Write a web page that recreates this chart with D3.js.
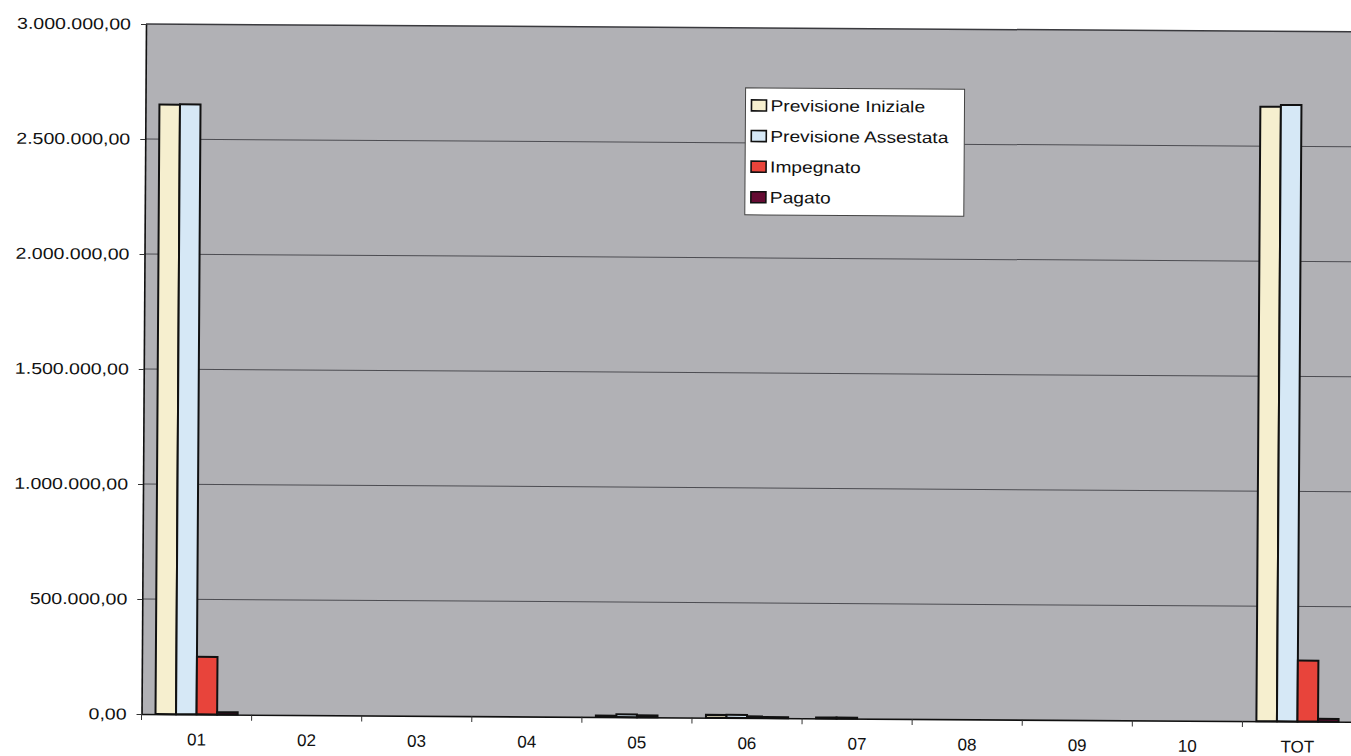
<!DOCTYPE html>
<html>
<head>
<meta charset="utf-8">
<script src="https://cdn.jsdelivr.net/npm/d3@7"></script>
<style>
  body { margin: 0; background: #ffffff; }
  svg { display: block; font-family: "Liberation Sans", Arial, sans-serif; }
</style>
</head>
<body>
<svg id="chart" width="1351" height="756"></svg>
<script>
// Spesa per titolo: previsioni, impegni e pagamenti
const categories = ["01", "02", "03", "04", "05", "06", "07", "08", "09", "10", "TOT"];
const seriesNames = ["Previsione Iniziale", "Previsione Assestata", "Impegnato", "Pagato"];
const previsioneIniziale  = [2650000, 0, 0, 0, 6000, 12000, 4000, 0, 0, 0, 2672000];
const previsioneAssestata = [2652000, 0, 0, 0, 12000, 13000, 4000, 0, 0, 0, 2680000];
const impegnato           = [250000, 0, 0, 0, 8000, 7000, 0, 0, 0, 0, 265000];
const pagato              = [10000, 0, 0, 0, 0, 4000, 0, 0, 0, 0, 12000];
const yTickValues = [0, 500000, 1000000, 1500000, 2000000, 2500000, 3000000];
const seriesColors = ["#f6efcf", "#d6e8f6", "#e8443b", "#650b33"];

const seriesValues = [previsioneIniziale, previsioneAssestata, impegnato, pagato];

const margin = { left: 146, top: 24 };
const width = 1211, height = 690;
const tilt = 0.37; // degrees

const it = d3.formatLocale({ decimal: ",", thousands: ".", grouping: [3], currency: ["", " €"] });
const fmt = it.format(",.2f");

const svg = d3.select("#chart");
const g = svg.append("g")
  .attr("transform", `translate(${margin.left},${margin.top}) rotate(${tilt})`);

const x0 = d3.scaleBand().domain(categories).range([0, width]).paddingInner(0).paddingOuter(0);
const x1 = d3.scaleBand().domain(seriesNames).range([0, x0.bandwidth()]).paddingInner(0).paddingOuter(0.68);
const y = d3.scaleLinear().domain([0, 3000000]).range([height, 0]);

// plot background
g.append("rect")
  .attr("x", 0).attr("y", 0).attr("width", width + 20).attr("height", height)
  .attr("fill", "#b1b1b5");

// horizontal gridlines
g.append("g")
  .selectAll("line")
  .data(yTickValues.filter(v => v > 0 && v < 3000000))
  .join("line")
  .attr("x1", 0).attr("x2", width + 20)
  .attr("y1", d => y(d)).attr("y2", d => y(d))
  .attr("stroke", "#4d4d52").attr("stroke-width", 1);

// top border of the plot area
g.append("line")
  .attr("x1", 0).attr("x2", width + 20).attr("y1", 0).attr("y2", 0)
  .attr("stroke", "#3a3a3e").attr("stroke-width", 1.5);

// bars
const rows = categories.map((c, i) => ({
  cat: c,
  bars: seriesNames.map((s, j) => ({ series: s, idx: j, value: seriesValues[j][i] }))
}));

const groups = g.append("g").selectAll("g")
  .data(rows)
  .join("g")
  .attr("transform", d => `translate(${x0(d.cat)},0)`);

groups.selectAll("rect")
  .data(d => d.bars.filter(b => b.value > 0))
  .join("rect")
  .attr("x", d => x1(d.series))
  .attr("y", d => y(d.value))
  .attr("width", x1.bandwidth())
  .attr("height", d => y(0) - y(d.value))
  .attr("fill", d => seriesColors[d.idx])
  .attr("stroke", "#111")
  .attr("stroke-width", 2);

// y axis
const yAxis = g.append("g")
  .call(d3.axisLeft(y).tickValues(yTickValues).tickFormat(fmt).tickSize(5).tickSizeOuter(0));
yAxis.select(".domain").attr("stroke", "#111").attr("stroke-width", 1.6);
yAxis.selectAll(".tick line").attr("stroke", "#333");
yAxis.selectAll(".tick text")
  .attr("x", 0)
  .attr("transform", "translate(-15,0) scale(1.22,1)")
  .attr("fill", "#111")
  .style("font-size", "16px");

// x axis
const xAxis = g.append("g")
  .attr("transform", `translate(0,${height})`)
  .call(d3.axisBottom(x0).tickSize(0).tickPadding(19));
xAxis.select(".domain").attr("stroke", "#111").attr("stroke-width", 1.6);
xAxis.selectAll(".tick text")
  .attr("fill", "#111")
  .style("font-size", "17px");

// tick marks at band boundaries
g.append("g")
  .attr("transform", `translate(0,${height})`)
  .selectAll("line")
  .data(categories)
  .join("line")
  .attr("x1", d => x0(d)).attr("x2", d => x0(d))
  .attr("y1", 0).attr("y2", 6)
  .attr("stroke", "#333").attr("stroke-width", 1);

// legend
const legend = g.append("g").attr("transform", "translate(600,60)");
legend.append("rect")
  .attr("width", 219).attr("height", 127)
  .attr("fill", "#ffffff").attr("stroke", "#444").attr("stroke-width", 1);
const items = legend.selectAll("g.item")
  .data(seriesNames)
  .join("g")
  .attr("class", "item")
  .attr("transform", (d, i) => `translate(0,${17.5 + i * 30.6})`);
items.append("rect")
  .attr("x", 6).attr("y", -5.5).attr("width", 15).attr("height", 11)
  .attr("fill", (d, i) => seriesColors[i])
  .attr("stroke", "#111").attr("stroke-width", 1.6);
items.append("text")
  .attr("transform", "translate(25,0) scale(1.2,1)")
  .attr("dy", "0.36em")
  .attr("fill", "#111")
  .style("font-size", "16px")
  .text(d => d);
</script>
</body>
</html>
